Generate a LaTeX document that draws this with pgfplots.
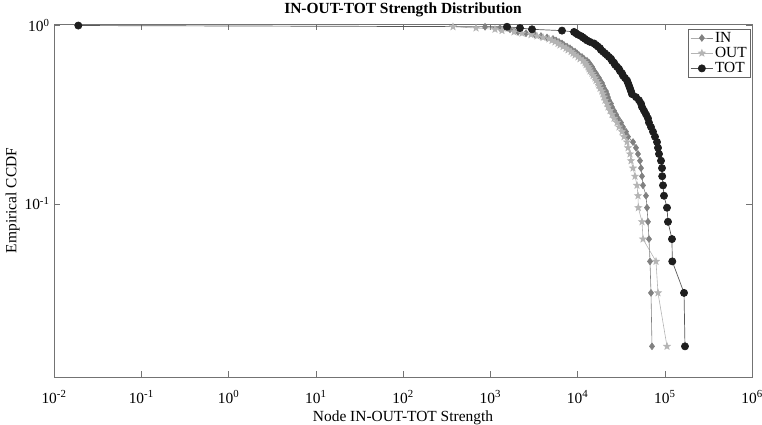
\documentclass[border=0pt]{standalone}
\usepackage{fontspec}
\setmainfont{Liberation Serif}
\usepackage{pgfplots}
\usepackage{pgfplotstable}
\pgfplotsset{compat=1.18}

% filled five-point star
\pgfdeclareplotmark{fstar}{%
  \pgfpathmoveto{\pgfpointpolar{90}{\pgfplotmarksize}}%
  \pgfpathlineto{\pgfpointpolar{126}{0.42\pgfplotmarksize}}%
  \pgfpathlineto{\pgfpointpolar{162}{\pgfplotmarksize}}%
  \pgfpathlineto{\pgfpointpolar{198}{0.42\pgfplotmarksize}}%
  \pgfpathlineto{\pgfpointpolar{234}{\pgfplotmarksize}}%
  \pgfpathlineto{\pgfpointpolar{270}{0.42\pgfplotmarksize}}%
  \pgfpathlineto{\pgfpointpolar{306}{\pgfplotmarksize}}%
  \pgfpathlineto{\pgfpointpolar{342}{0.42\pgfplotmarksize}}%
  \pgfpathlineto{\pgfpointpolar{18}{\pgfplotmarksize}}%
  \pgfpathlineto{\pgfpointpolar{54}{0.42\pgfplotmarksize}}%
  \pgfpathclose
  \pgfusepathqfillstroke}

\definecolor{inclr}{HTML}{808080}
\definecolor{outclr}{HTML}{B4B4B4}
\definecolor{totclr}{HTML}{1E1E1E}

\newcommand{\fs}{\fontsize{15.5pt}{17pt}\selectfont}
\newcommand{\ex}[1]{\fs 10\textsuperscript{#1}}

% empirical CCDF, 63 nodes
\pgfplotstableread{
y       in      out     tot
1.0000  nan     nan     0.019
0.9841  871     374     1556
0.9683  1293    687     2193
0.9524  1684    1133    3010
0.9365  1872    1363    6642
0.9206  2080    1872    9120
0.9048  2569    2312    9610
0.8889  3258    2931    10140
0.8730  3816    3434    10970
0.8571  4471    4023    11570
0.8413  5239    4714    12190
0.8254  5670    5102    12850
0.8095  6138    5523    13910
0.7937  6642    5977    15460
0.7778  7003    6301    16290
0.7619  7580    6820    17180
0.7460  8204    7382    18110
0.7302  8650    7782    18590
0.7143  9361    8423    19600
0.6984  9869    8879    20660
0.6825  10400   9361    21780
0.6667  11260   10130   22960
0.6508  11870   10680   24210
0.6349  12850   11560   24850
0.6190  13550   12190   26200
0.6032  13910   12520   26900
0.5873  14660   13190   28360
0.5714  15060   13550   29900
0.5556  15460   13910   30690
0.5397  16290   14660   32360
0.5238  16730   15060   33220
0.5079  17630   15870   35020
0.4921  18110   16290   36930
0.4762  19090   17180   37920
0.4603  19600   17630   38940
0.4444  20120   18110   39970
0.4286  21210   19090   41040
0.4127  21780   19600   42100
0.3968  22360   20120   46820
0.3810  22960   20660   50680
0.3651  24210   21780   53430
0.3492  24850   22360   54870
0.3333  26200   23580   57830
0.3175  27620   24850   60990
0.3016  29120   26200   64270
0.2857  31520   28360   65990
0.2698  33220   29900   69560
0.2540  35970   32360   73340
0.2381  37920   34120   77320
0.2222  43270   36930   81520
0.2063  46820   37920   83700
0.1905  49360   39970   85930
0.1746  52040   41040   90600
0.1587  53430   43270   93000
0.1429  54870   45600   93500
0.1270  56330   48080   95500
0.1111  60990   49360   98000
0.0952  62610   49800   106100
0.0794  64270   54870   108900
0.0635  65990   56330   121000
0.0476  67750   79360   122000
0.0317  69560   83670   166300
0.0159  71420   106100  170600
}\ccdf

\begin{document}
\begin{tikzpicture}
\path[use as bounding box] (-54bp,-48bp) rectangle (708bp,377bp);
\begin{axis}[
    at={(0,0)}, anchor=south west,
    scale only axis,
    width=698bp, height=353bp,
    xmode=log, ymode=log,
    xmin=1e-2, xmax=1e6,
    ymin=0.0107, ymax=1.02,
    xtick={1e-2,1e-1,1,10,100,1000,1e4,1e5,1e6},
    xticklabels={\ex{-2},\ex{-1},\ex{0},\ex{1},\ex{2},\ex{3},\ex{4},\ex{5},\ex{6}},
    ytick={0.1,1},
    yticklabels={\ex{-1},\ex{0}},
    xminorticks=false, yminorticks=false,
    tick align=inside,
    tick pos=both,
    major tick length=6bp,
    axis line style={black!55},
    tick style={black!55},
    xticklabel style={anchor=base, yshift=-26bp},
    yticklabel style={xshift=-1bp},
    title={\fs\bfseries IN-OUT-TOT Strength Distribution},
    title style={at={(0.5,1)}, anchor=base, yshift=5bp, inner sep=0pt},
    xlabel={\fs Node IN-OUT-TOT Strength},
    ylabel={\fs Empirical CCDF},
    xlabel style={at={(0.5,0)}, anchor=base, yshift=-44bp},
    ylabel style={yshift=-2bp},
    legend style={at={(1,1)}, anchor=north east, xshift=-2bp, yshift=-5bp,
        draw=black!60, inner sep=1.5bp, row sep=0.5bp,
        nodes={inner sep=1.5bp}},
    legend cell align=left,
    legend image code/.code={%
        \draw[mark repeat=2,mark phase=2] plot coordinates {(0cm,0cm) (0.4cm,0cm) (0.8cm,0cm)};},
]
\addplot[color=inclr, line width=0.6pt, mark=diamond*, mark size=3.4pt,
    mark options={fill=inclr, draw=inclr}]
    table[x=in, y=y] {\ccdf};
\addlegendentry{\fs IN}
\addplot[color=outclr, line width=0.6pt, mark=fstar, mark size=3.6pt,
    mark options={fill=outclr, draw=outclr}]
    table[x=out, y=y] {\ccdf};
\addlegendentry{\fs OUT}
\addplot[color=black!65, line width=0.7pt, mark=*, mark size=3.6pt,
    mark options={fill=totclr, draw=totclr}]
    table[x=tot, y=y] {\ccdf};
\addlegendentry{\fs TOT}
\end{axis}
\end{tikzpicture}
\end{document}
